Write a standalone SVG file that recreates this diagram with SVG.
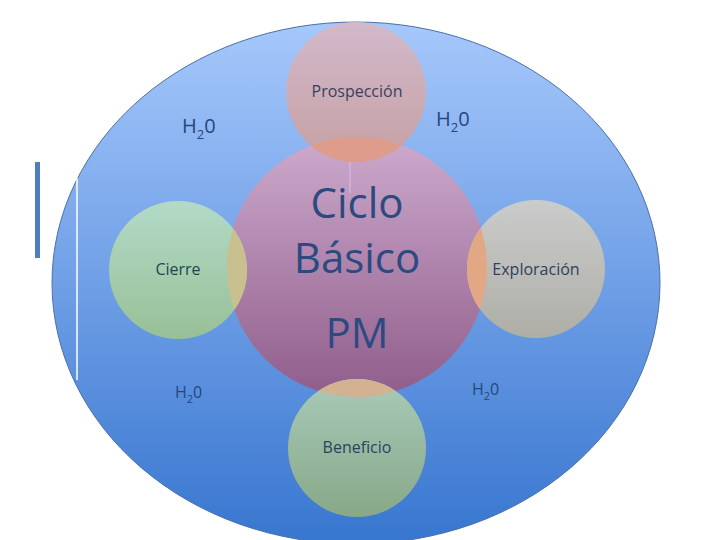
<svg xmlns="http://www.w3.org/2000/svg" width="720" height="540" viewBox="0 0 720 540">
<defs>
<linearGradient id="gBg" x1="0" y1="0" x2="0" y2="1">
<stop offset="0" stop-color="#a6c8fb"/>
<stop offset="0.5" stop-color="#6f9fe6"/>
<stop offset="1" stop-color="#3776cf"/>
</linearGradient>
<linearGradient id="gCenter" x1="0" y1="0" x2="0" y2="1">
<stop offset="0" stop-color="#cdaacd"/>
<stop offset="1" stop-color="#8f5d8a"/>
</linearGradient>
<linearGradient id="gPro" x1="0" y1="0" x2="0" y2="1">
<stop offset="0" stop-color="#d2b9ca"/>
<stop offset="1" stop-color="#c6a0a4"/>
</linearGradient>
<linearGradient id="gCie" x1="0" y1="0" x2="0" y2="1">
<stop offset="0" stop-color="#b2dac8"/>
<stop offset="1" stop-color="#98c096"/>
</linearGradient>
<linearGradient id="gExp" x1="0" y1="0" x2="0" y2="1">
<stop offset="0" stop-color="#cacccb"/>
<stop offset="1" stop-color="#aeaea6"/>
</linearGradient>
<linearGradient id="gBen" x1="0" y1="0" x2="0" y2="1">
<stop offset="0" stop-color="#a8cab8"/>
<stop offset="1" stop-color="#88a888"/>
</linearGradient>
<clipPath id="cCenter"><circle cx="357" cy="267" r="130"/></clipPath>
</defs>
<style>
.lbl{font-family:"Open Sans","Noto Sans",sans-serif;font-size:16px;text-anchor:middle}
.big{font-family:"Open Sans","Noto Sans",sans-serif;font-size:42px;fill:#2c4a80;text-anchor:middle}
.h2o{font-family:"Open Sans","Noto Sans",sans-serif;fill:#26477c}
</style>
<rect width="720" height="540" fill="#ffffff"/>
<g id="background">
<ellipse cx="356" cy="283" rx="304" ry="261" fill="url(#gBg)" stroke="#4b70a8" stroke-width="1"/>
<line x1="77" y1="178" x2="77" y2="380" stroke="#ffffff" stroke-width="1.5"/>
<rect x="35" y="162" width="5" height="96" fill="#4f7fc0"/>
</g>
<g id="center">
<circle cx="357" cy="267" r="130" fill="url(#gCenter)"/>
<text class="big" x="357" y="218">Ciclo</text>
<text class="big" x="357" y="273">Básico</text>
<text class="big" x="357" y="348">PM</text>
</g>
<g id="connectors">
<line x1="350" y1="146" x2="350" y2="193" stroke="#d8c4dc" stroke-width="1.2" opacity="0.8"/>
</g>
<g id="prospeccion">
<circle cx="356" cy="92" r="70" fill="url(#gPro)"/>
<circle cx="356" cy="92" r="70" fill="#de9c8c" clip-path="url(#cCenter)"/>
<text class="lbl" x="357" y="97" fill="#3a3f5e">Prospección</text>
</g>
<g id="cierre">
<circle cx="178" cy="270" r="69" fill="url(#gCie)"/>
<circle cx="178" cy="270" r="69" fill="#c8c08e" clip-path="url(#cCenter)"/>
<text class="lbl" x="178" y="275" fill="#244552">Cierre</text>
</g>
<g id="exploracion">
<circle cx="536" cy="269" r="69" fill="url(#gExp)"/>
<circle cx="536" cy="269" r="69" fill="#e2a886" clip-path="url(#cCenter)"/>
<text class="lbl" x="536" y="275" fill="#2f3f5e">Exploración</text>
</g>
<g id="beneficio">
<circle cx="357" cy="448" r="69" fill="url(#gBen)"/>
<circle cx="357" cy="448" r="69" fill="#d2b290" clip-path="url(#cCenter)"/>
<text class="lbl" x="357" y="453" fill="#27445e">Beneficio</text>
</g>
<g id="h2o-labels">
<text class="h2o" x="182" y="133" font-size="20">H<tspan font-size="13" dy="6">2</tspan><tspan dy="-6">0</tspan></text>
<text class="h2o" x="436" y="126" font-size="20">H<tspan font-size="13" dy="6">2</tspan><tspan dy="-6">0</tspan></text>
<text class="h2o" x="175" y="398" font-size="16">H<tspan font-size="11" dy="5">2</tspan><tspan dy="-5">0</tspan></text>
<text class="h2o" x="472" y="395" font-size="16">H<tspan font-size="11" dy="5">2</tspan><tspan dy="-5">0</tspan></text>
</g>
</svg>
